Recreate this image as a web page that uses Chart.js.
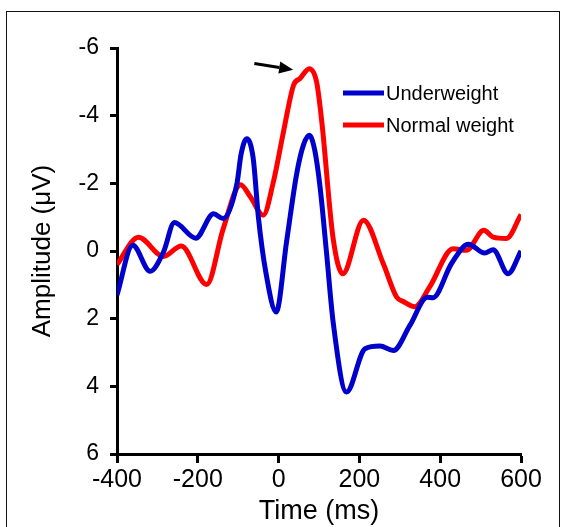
<!DOCTYPE html>
<html>
<head>
<meta charset="utf-8">
<script src="https://cdn.jsdelivr.net/npm/chart.js@4/dist/chart.umd.min.js"></script>
<style>
  body { margin: 0; background: #fff; }
  .wrap { position: relative; width: 561px; height: 527px; overflow: hidden; }
  .frame {
    position: absolute; left: 6px; top: 11px; width: 554px; height: 540px;
    border: 1.5px solid #111; box-sizing: border-box; pointer-events: none;
  }
</style>
</head>
<body>
<div class="wrap">
  <canvas id="erp" width="561" height="527"></canvas>
  <div class="frame"></div>
</div>
<script>
// ERP waveforms, amplitude in µV (negative up)
const underweightTimes = [-400, -361, -318, -285, -258, -205, -161, -137, -103, -93, -79, -63, -50, -32, -6, 20, 45, 62, 76, 90, 103, 119, 135, 168, 214, 251, 284, 325, 368, 382, 428, 470, 510, 531, 568, 600];
const underweightValues = [1.3, -0.17, 0.6, 0.03, -0.84, -0.38, -1.10, -0.96, -2.0, -2.85, -3.32, -2.75, -1.0, 0.6, 1.80, -0.3, -2.3, -3.15, -3.42, -2.95, -1.85, 0.1, 2.1, 4.17, 2.89, 2.81, 2.94, 2.2, 1.37, 1.38, 0.37, -0.2, 0.06, -0.04, 0.67, 0.0];

const normalTimes = [-400, -347, -285, -241, -178, -137, -94, -70, -38, -13, 12, 37, 53, 76, 94, 107, 135, 159, 210, 259, 292, 310, 337, 374, 432, 465, 508, 531, 564, 600];
const normalValues = [0.40, -0.41, 0.16, -0.15, 0.99, -0.66, -1.96, -1.6, -1.06, -2.04, -3.52, -4.90, -5.10, -5.39, -5.0, -3.81, -0.37, 0.67, -0.91, 0.37, 1.36, 1.5, 1.65, 1.06, -0.07, -0.02, -0.61, -0.41, -0.37, -1.08];

const xTicks = [-400, -200, 0, 200, 400, 600];
const yTicks = [-6, -4, -2, 0, 2, 4, 6];

// arrow pointing at the normal-weight peak (data coords)
const arrowFrom = { x: -60, y: -5.54 };
const arrowTo = { x: 36, y: -5.36 };

const FONT = '"Liberation Sans", Arial, Helvetica, sans-serif';

const toPoints = (ts, vs) => ts.map((t, i) => ({ x: t, y: vs[i] }));

const insideLegend = {
  id: 'insideLegend',
  afterDraw(chart) {
    const ctx = chart.ctx;
    ctx.save();
    ctx.font = '20px ' + FONT;
    ctx.textBaseline = 'middle';
    chart.data.datasets.forEach((ds, i) => {
      const y = 93 + i * 32;
      ctx.strokeStyle = ds.borderColor;
      ctx.lineWidth = 5;
      ctx.beginPath();
      ctx.moveTo(343, y);
      ctx.lineTo(384, y);
      ctx.stroke();
      ctx.fillStyle = '#000';
      ctx.fillText(ds.label, 386, y + 1);
    });
    ctx.restore();
  }
};

const peakArrow = {
  id: 'peakArrow',
  afterDraw(chart) {
    const { ctx, scales: { x, y } } = chart;
    const x0 = x.getPixelForValue(arrowFrom.x), y0 = y.getPixelForValue(arrowFrom.y);
    const x1 = x.getPixelForValue(arrowTo.x), y1 = y.getPixelForValue(arrowTo.y);
    const ang = Math.atan2(y1 - y0, x1 - x0);
    const head = 14, half = 6;
    const bx = x1 - head * Math.cos(ang), by = y1 - head * Math.sin(ang);
    ctx.save();
    ctx.strokeStyle = '#000';
    ctx.fillStyle = '#000';
    ctx.lineWidth = 3;
    ctx.beginPath();
    ctx.moveTo(x0, y0);
    ctx.lineTo(bx, by);
    ctx.stroke();
    ctx.beginPath();
    ctx.moveTo(x1, y1);
    ctx.lineTo(bx + half * Math.sin(ang), by - half * Math.cos(ang));
    ctx.lineTo(bx - half * Math.sin(ang), by + half * Math.cos(ang));
    ctx.closePath();
    ctx.fill();
    ctx.restore();
  }
};

new Chart(document.getElementById('erp'), {
  type: 'line',
  data: {
    datasets: [
      {
        label: 'Underweight',
        data: toPoints(underweightTimes, underweightValues),
        borderColor: '#0000cc',
        borderWidth: 5,
        pointRadius: 0,
        cubicInterpolationMode: 'monotone',
        fill: false
      },
      {
        label: 'Normal weight',
        data: toPoints(normalTimes, normalValues),
        borderColor: '#ff0000',
        borderWidth: 5,
        pointRadius: 0,
        cubicInterpolationMode: 'monotone',
        fill: false
      }
    ]
  },
  options: {
    responsive: false,
    animation: false,
    layout: { padding: { left: 0, top: 48, right: 40, bottom: 0 } },
    plugins: { legend: { display: false }, tooltip: { enabled: false } },
    scales: {
      x: {
        type: 'linear',
        min: -400,
        max: 600,
        afterBuildTicks: (axis) => { axis.ticks = xTicks.map(v => ({ value: v })); },
        afterFit: (axis) => { axis.height = 73; },
        border: { display: true, width: 3, color: '#000' },
        grid: { display: true, drawOnChartArea: false, drawTicks: true, tickLength: 9, tickWidth: 3, tickColor: '#000' },
        ticks: { color: '#000', font: { family: FONT, size: 25 }, padding: 2, maxRotation: 0 },
        title: { display: true, text: 'Time (ms)', color: '#000', font: { family: FONT, size: 27 }, padding: { top: 0, bottom: -1 } }
      },
      y: {
        min: -6,
        max: 6,
        reverse: true,
        afterBuildTicks: (axis) => { axis.ticks = yTicks.map(v => ({ value: v })); },
        afterFit: (axis) => { axis.width = 117; },
        border: { display: true, width: 3, color: '#000' },
        grid: { display: true, drawOnChartArea: false, drawTicks: true, tickLength: 7, tickWidth: 3, tickColor: '#000' },
        ticks: { color: '#000', font: { family: FONT, size: 23 }, padding: 11 },
        title: { display: true, text: 'Amplitude (μV)', color: '#000', font: { family: FONT, size: 26 }, padding: { top: 27, bottom: 0 } }
      }
    }
  },
  plugins: [insideLegend, peakArrow]
});
</script>
</body>
</html>
